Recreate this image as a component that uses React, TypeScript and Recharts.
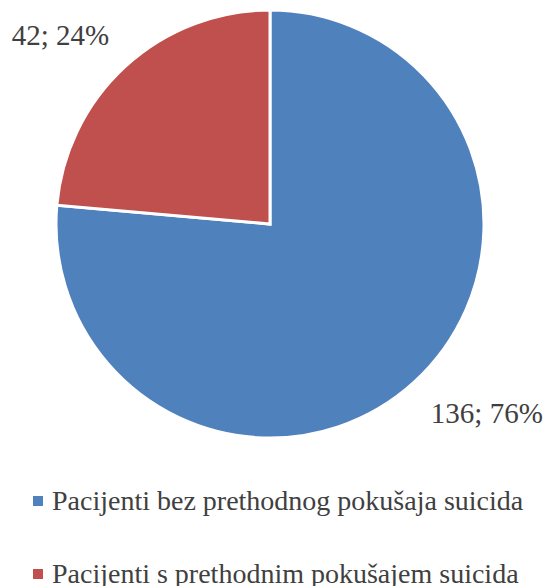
import React from 'react';
import { PieChart, Pie, Cell, Legend } from 'recharts';

const categories = [
  'Pacijenti bez prethodnog pokušaja suicida',
  'Pacijenti s prethodnim pokušajem suicida',
];
const counts = [136, 42];
const percents = [76, 24];
const colors = ['#4F81BD', '#C0504D'];

const data = categories.map((name, i) => ({ name, value: counts[i], pct: percents[i] }));

const RAD = Math.PI / 180;
const textColor = '#404040';
const serif = '"Liberation Serif", "Times New Roman", serif';

const renderLabel = (props: any) => {
  const { cx, cy, midAngle, outerRadius, index } = props;
  const r = outerRadius + 42;
  const cos = Math.cos(-midAngle * RAD);
  const sin = Math.sin(-midAngle * RAD);
  const right = cos >= 0;
  // pull text a little back towards the pie, like Excel's best fit
  const x = cx + r * cos + (right ? -12 : 12);
  const y = cy + r * sin;
  return (
    <text
      x={x}
      y={y}
      fill={textColor}
      fontSize={29}
      fontFamily={serif}
      textAnchor={right ? 'start' : 'end'}
      dominantBaseline="central"
    >
      {`${counts[index]}; ${percents[index]}%`}
    </text>
  );
};

const renderLegend = (props: any) => {
  const { payload } = props;
  return (
    <div style={{ fontFamily: serif, fontSize: 28, color: textColor }}>
      {(payload || []).map((entry: any, i: number) => (
        <div
          key={i}
          style={{ display: 'flex', alignItems: 'center', height: 44, marginBottom: 29, paddingLeft: 33 }}
        >
          <span
            style={{ display: 'inline-block', width: 10, height: 10, background: entry.color, marginRight: 9 }}
          />
          <span style={{ whiteSpace: 'nowrap' }}>{entry.value}</span>
        </div>
      ))}
    </div>
  );
};

export default function App() {
  return (
    <div style={{ position: 'absolute', left: 0, top: 0, background: '#fff' }}>
      <PieChart width={548} height={586} margin={{ top: 0, right: 0, bottom: 0, left: 0 }}>
        <Pie
          data={data}
          dataKey="value"
          nameKey="name"
          cx={270}
          cy={224}
          outerRadius={214}
          startAngle={90}
          endAngle={-270}
          stroke="#ffffff"
          strokeWidth={3}
          label={renderLabel}
          labelLine={false}
          isAnimationActive={false}
        >
          {data.map((d, i) => (
            <Cell key={d.name} fill={colors[i]} />
          ))}
        </Pie>
        <Legend
          content={renderLegend}
          wrapperStyle={{ position: 'absolute', left: 0, top: 479, width: 548 }}
        />
      </PieChart>
    </div>
  );
}
